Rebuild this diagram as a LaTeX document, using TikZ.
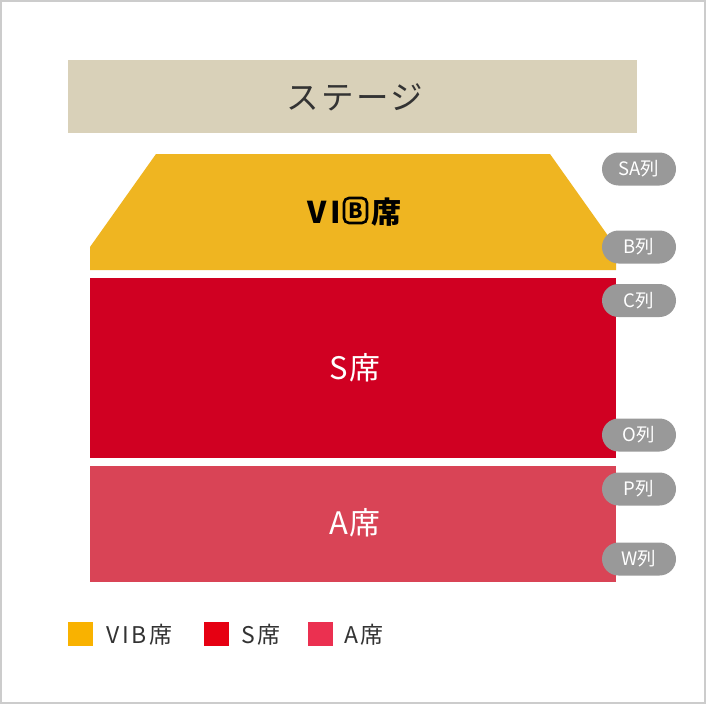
\documentclass[tikz,border=0pt]{standalone}
\usepackage{fontspec}
\setmainfont{Noto Sans CJK JP}
\usetikzlibrary{positioning}
\definecolor{stagecol}{HTML}{D9D1B9}
\definecolor{vibcol}{HTML}{EFB521}
\definecolor{scol}{HTML}{D00022}
\definecolor{acol}{HTML}{D94456}
\definecolor{pillcol}{HTML}{999999}
\definecolor{txtcol}{HTML}{333333}
\definecolor{legvib}{HTML}{F9B200}
\definecolor{legs}{HTML}{E60012}
\definecolor{lega}{HTML}{EB3050}
\definecolor{framecol}{HTML}{CCCCCC}
\tikzset{
  pill/.style={fill=pillcol, rounded corners=16.5pt, minimum width=74pt, minimum height=33pt, inner sep=0pt, text=white, font=\fontsize{18.5}{18.5}\selectfont},
  seattext/.style={text=white, inner sep=0pt, font=\fontsize{31}{31}\selectfont\addfontfeature{LetterSpace=6}},
  legbox/.style={minimum width=25pt, minimum height=24pt, inner sep=0pt, anchor=west},
  legtext/.style={anchor=west, inner sep=0pt, text=txtcol, font=\fontsize{23}{23}\selectfont\addfontfeature{LetterSpace=12}},
}
\begin{document}
\begin{tikzpicture}[x=1pt, y=-1pt]
\useasboundingbox (0,0) rectangle (706,704);
\draw[framecol, line width=2pt, fill=white] (1,1) rectangle (705,703);
% stage
\fill[stagecol] (68,60) rectangle (637,133);
\node[text=txtcol, inner sep=0pt, font=\fontsize{32.5}{32.5}\selectfont\addfontfeature{LetterSpace=7}] (stage) at (355,97) {ステージ};
% VIB area
\fill[vibcol] (156,154) -- (550,154) -- (616,247) -- (616,270) -- (90,270) -- (90,247) -- cycle;
\node[inner sep=0pt, anchor=east, font=\fontsize{30}{30}\selectfont\bfseries\addfontfeature{LetterSpace=12}] (vi) at (341,212) {VI};
\node[draw=black, line width=2.6pt, rounded corners=5pt, minimum width=23pt, minimum height=25pt, inner sep=0pt, font=\fontsize{21}{21}\selectfont\bfseries] (bbox) at (355.5,210.5) {B};
\node[inner sep=0pt, anchor=west, font=\fontsize{30}{30}\selectfont\bfseries] (vibseat) at (371,212) {席};
% S area
\fill[scol] (90,278) rectangle (616,458);
\node[seattext] (stext) at (355,368) {S席};
% A area
\fill[acol] (90,466) rectangle (616,582);
\node[seattext] (atext) at (355,523) {A席};
% pills
\node[pill] (sa) at (639,169) {SA列};
\node[pill] (b) at (639,247) {B列};
\node[pill] (c) at (639,300.5) {C列};
\node[pill] (o) at (639,435) {O列};
\node[pill] (p) at (639,489) {P列};
\node[pill] (w) at (639,559) {W列};
% legend
\node[legbox, fill=legvib] (lv) at (68,634) {};
\node[legtext] (lvt) at (106,634.5) {VIB席};
\node[legbox, fill=legs] (ls) at (204,634) {};
\node[legtext] (lst) at (241,634.5) {S席};
\node[legbox, fill=lega] (la) at (308,634) {};
\node[legtext] (lat) at (344,634.5) {A席};
\end{tikzpicture}
\end{document}
